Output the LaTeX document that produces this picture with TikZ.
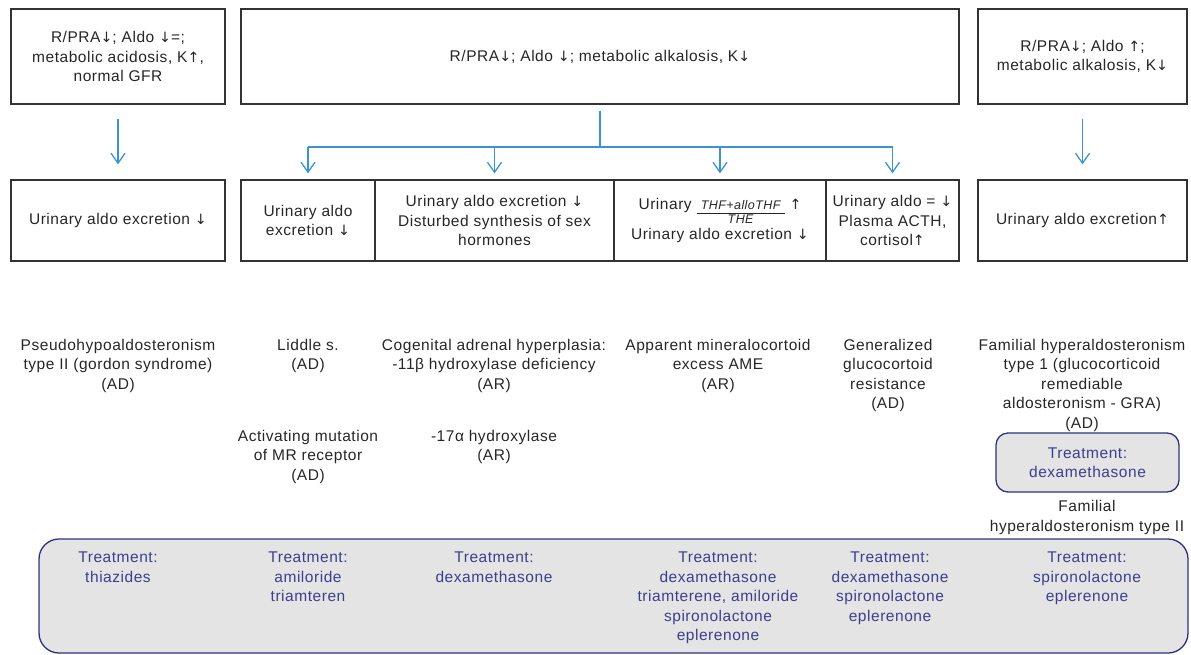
\documentclass[tikz,border=0pt]{standalone}
\usepackage{fontspec}
\setmainfont{Liberation Sans}[LetterSpace=3.5]
\newfontfamily\arrowfont{DejaVu Sans}[Scale=0.92]
\newcommand\da{{\arrowfont ↓}}
\newcommand\ua{{\arrowfont ↑}}
\usetikzlibrary{arrows.meta}
\definecolor{arrblue}{HTML}{3A94D2}
\definecolor{navyline}{HTML}{2E3180}
\definecolor{navytext}{HTML}{3C3F8E}
\definecolor{boxgray}{HTML}{E4E4E4}
\definecolor{edgegray}{HTML}{333333}
\definecolor{txt}{HTML}{262626}
\newcommand\thfratio{\begingroup\fontsize{12.5}{14}\selectfont\itshape\begin{tabular}[t]{@{\,\,}c@{\,\,}}THF+alloTHF\\\hline THE\end{tabular}\endgroup}
\begin{document}
\begin{tikzpicture}[x=1pt,y=-1pt,
 every node/.style={font=\fontsize{15.5}{19.5}\selectfont, align=center, inner sep=0pt, text=txt},
 box/.style={draw=edgegray, line width=1.3pt, minimum height=95pt},
 lowbox/.style={draw=edgegray, line width=1.3pt, minimum height=81pt},
 flow/.style={draw=arrblue, line width=1.3pt},
 flowarrow/.style={flow, -{Straight Barb[length=10pt,width=14pt]}},
 disease/.style={anchor=north},
 treat/.style={anchor=north, text=navytext},
 treatbox/.style={draw=navyline, fill=boxgray, line width=1.3pt, text=navytext},
]
\useasboundingbox (0,0) rectangle (1191,654);
% top boxes
\node[box, minimum width=214pt] (tl) at (118,56.5) {R/PRA\da; Aldo \da=;\\metabolic acidosis, K\ua,\\normal GFR};
\node[box, minimum width=718pt] (tm) at (600,56.5) {R/PRA\da; Aldo \da; metabolic alkalosis, K\da};
\node[box, minimum width=209pt] (tr) at (1082.5,56.5) {R/PRA\da; Aldo \ua;\\metabolic alkalosis, K\da};
% bottom boxes
\node[lowbox, minimum width=214pt] (b1) at (118,220.5) {Urinary aldo excretion \da};
\node[lowbox, minimum width=134pt] (b2) at (308,220.5) {Urinary aldo\\excretion \da};
\node[lowbox, minimum width=239pt] (b3) at (494.5,220.5) {Urinary aldo excretion \da\\Disturbed synthesis of sex\\hormones};
\node[lowbox, minimum width=212pt] (b4) at (720,220.5) {Urinary \thfratio\ \ua\\Urinary aldo excretion \da};
\node[lowbox, minimum width=133pt] (b5) at (892.5,220.5) {Urinary aldo = \da\\Plasma ACTH,\\cortisol\ua};
\node[lowbox, minimum width=209pt] (b6) at (1082.5,220.5) {Urinary aldo excretion\ua};
% connectors
\draw[flowarrow, shorten <=14pt, shorten >=15pt] (tl) -- (b1);
\draw[flowarrow, shorten <=14pt, shorten >=15pt] (tr) -- (b6);
\coordinate (br) at (600,147);
\draw[flow, shorten <=6pt] (tm.south) -- (br);
\draw[flow] (b2.north |- br) -- (b5.north |- br);
\foreach \n in {b2,b3,b4,b5} \draw[flowarrow, shorten >=6pt] (\n.north |- br) -- (\n.north);
% disease labels
\node[disease] (d1) at (118,339) {Pseudohypoaldosteronism\\type II (gordon syndrome)\\(AD)};
\node[disease] (d2) at (308,339) {Liddle s.\\(AD)};
\node[disease] (d3) at (494,339) {Cogenital adrenal hyperplasia:\\-11β hydroxylase deficiency\\(AR)};
\node[disease] (d4) at (308,430) {Activating mutation\\of MR receptor\\(AD)};
\node[disease] (d5) at (494,430) {-17α hydroxylase\\(AR)};
\node[disease] (d6) at (718,339) {Apparent mineralocortoid\\excess AME\\(AR)};
\node[disease] (d7) at (888,339) {Generalized\\glucocortoid\\resistance\\(AD)};
\node[disease] (d8) at (1082,339) {Familial hyperaldosteronism\\type 1 (glucocorticoid\\remediable\\aldosteronism - GRA)\\(AD)};
\node[treatbox, rounded corners=12pt, minimum width=183pt, minimum height=59pt] (t0) at (1087.5,462.5) {Treatment:\\dexamethasone};
\node[disease] (d9) at (1087,500.5) {Familial\\hyperaldosteronism type II};
% treatment panel
\node[treatbox, rounded corners=20pt, minimum width=1149pt, minimum height=114pt] (tb) at (613.5,596) {};
\node[treat] (t1) at (118,552) {Treatment:\\thiazides};
\node[treat] (t2) at (308,552) {Treatment:\\amiloride\\triamteren};
\node[treat] (t3) at (494,552) {Treatment:\\dexamethasone};
\node[treat] (t4) at (718,552) {Treatment:\\dexamethasone\\triamterene, amiloride\\spironolactone\\eplerenone};
\node[treat] (t5) at (890,552) {Treatment:\\dexamethasone\\spironolactone\\eplerenone};
\node[treat] (t6) at (1087,552) {Treatment:\\spironolactone\\eplerenone};
\end{tikzpicture}
\end{document}
